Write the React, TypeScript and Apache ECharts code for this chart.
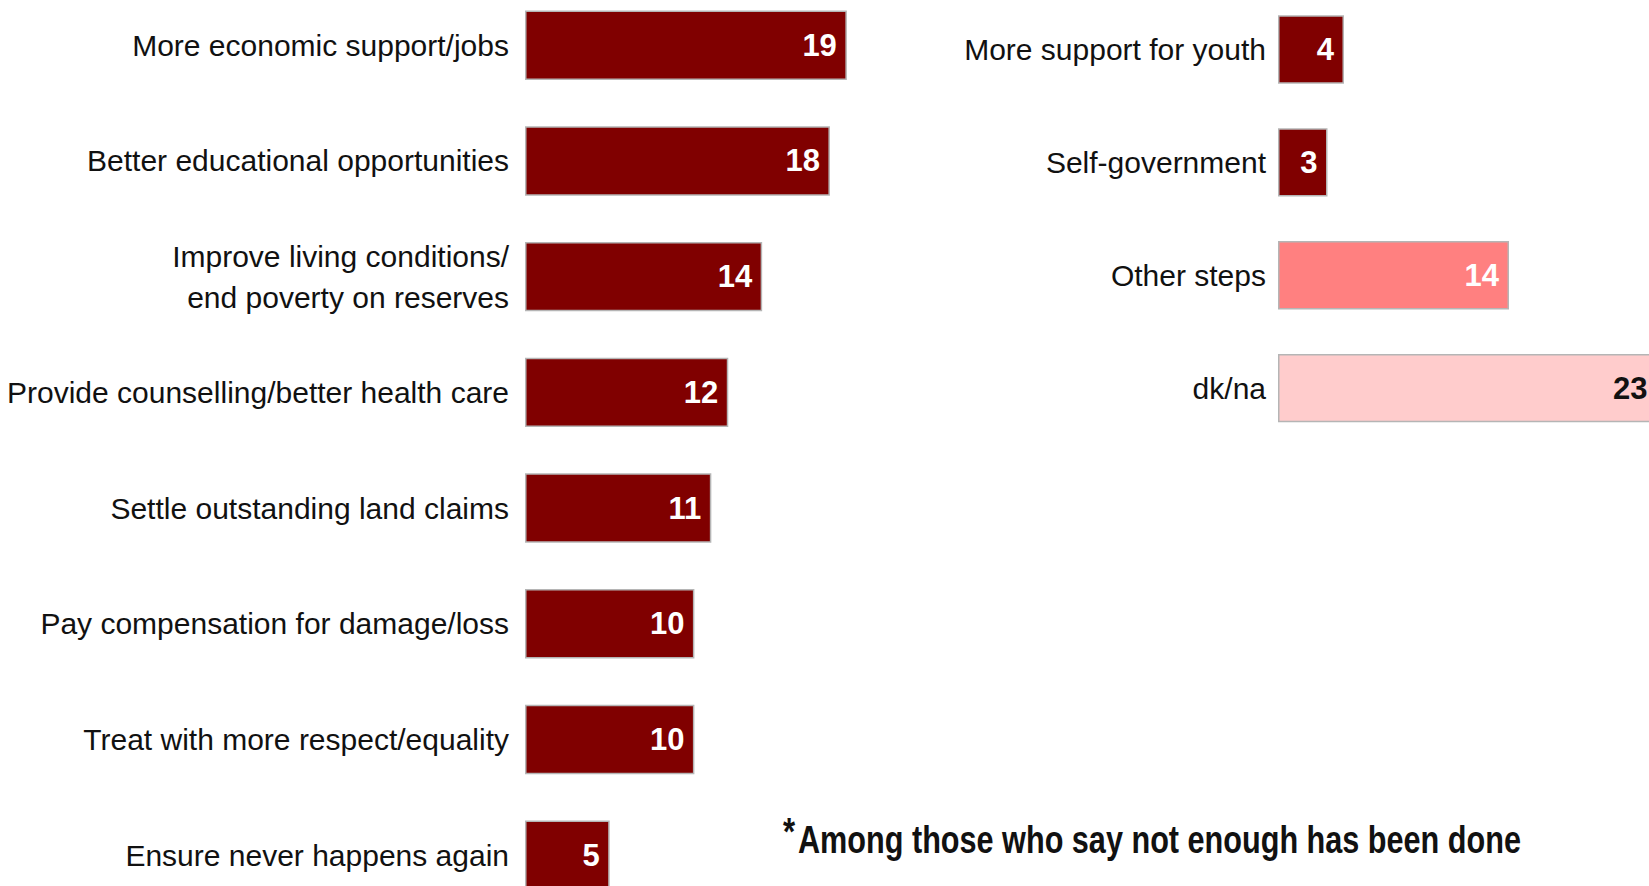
import React, { useEffect, useRef } from "react";
import * as echarts from "echarts";

const leftCategories = [
  "More economic support/jobs",
  "Better educational opportunities",
  "Improve living conditions/\nend poverty on reserves",
  "Provide counselling/better health care",
  "Settle outstanding land claims",
  "Pay compensation for damage/loss",
  "Treat with more respect/equality",
  "Ensure never happens again",
];
const leftValues = [19, 18, 14, 12, 11, 10, 10, 5];

const rightCategories = ["More support for youth", "Self-government", "Other steps", "dk/na"];
const rightValues = [4, 3, 14, 23];
const rightColors = ["#800000", "#800000", "#FF8080", "#FFCCCC"];
const rightLabelColors = ["#ffffff", "#ffffff", "#ffffff", "#111111"];

const footnote = "Among those who say not enough has been done";

const FONT = '"Liberation Sans", Arial, sans-serif';

export default function App() {
  const ref = useRef<HTMLDivElement>(null);
  useEffect(() => {
    if (!ref.current) return;
    const chart = echarts.init(ref.current, null, { renderer: "svg" });
    const catLabel = {
      fontFamily: FONT,
      fontSize: 30,
      color: "#111",
      lineHeight: 41,
    };
    const valLabel = {
      show: true,
      position: "insideRight",
      distance: 10,
      fontFamily: FONT,
      fontWeight: "bold",
      fontSize: 31,
    };
    chart.setOption({
      animation: false,
      backgroundColor: "#ffffff",
      grid: [
        { left: 525, top: -12.6, width: 508.2, height: 925.6, outerBoundsMode: "none", containLabel: false },
        { left: 1278, top: -7, width: 495, height: 451.6, outerBoundsMode: "none", containLabel: false },
      ],
      xAxis: [
        { gridIndex: 0, type: "value", min: 0, max: 30, show: false },
        { gridIndex: 1, type: "value", min: 0, max: 30, show: false },
      ],
      yAxis: [
        {
          gridIndex: 0,
          type: "category",
          data: leftCategories,
          inverse: true,
          axisLine: { show: false },
          axisTick: { show: false },
          splitLine: { show: false },
          axisLabel: { ...catLabel, margin: 16 },
        },
        {
          gridIndex: 1,
          type: "category",
          data: rightCategories,
          inverse: true,
          axisLine: { show: false },
          axisTick: { show: false },
          splitLine: { show: false },
          axisLabel: { ...catLabel, margin: 12 },
        },
      ],
      series: [
        {
          type: "bar",
          xAxisIndex: 0,
          yAxisIndex: 0,
          data: leftValues,
          barWidth: "60%",
          itemStyle: { color: "#800000", borderColor: "#b5b5b5", borderWidth: 1.5 },
          label: { ...valLabel, color: "#ffffff" },
        },
        {
          type: "bar",
          xAxisIndex: 1,
          yAxisIndex: 1,
          data: rightValues.map((v, i) => ({
            value: v,
            itemStyle: { color: rightColors[i] },
            label: { color: rightLabelColors[i] },
          })),
          barWidth: "60.6%",
          itemStyle: { borderColor: "#b5b5b5", borderWidth: 1.5 },
          label: valLabel,
        },
      ],
      graphic: [
        {
          type: "text",
          x: 783,
          y: 813,
          scaleX: 0.82,
          style: { text: "*", fontFamily: FONT, fontWeight: "bold", fontSize: 38, fill: "#111" },
        },
        {
          type: "text",
          x: 798,
          y: 821,
          scaleX: 0.806,
          style: { text: footnote, fontFamily: FONT, fontWeight: "bold", fontSize: 38, fill: "#111" },
        },
      ],
    });
    return () => chart.dispose();
  }, []);
  return (
    <div
      ref={ref}
      style={{ position: "fixed", left: 0, top: 0, width: 1649, height: 886, background: "#fff" }}
    />
  );
}
